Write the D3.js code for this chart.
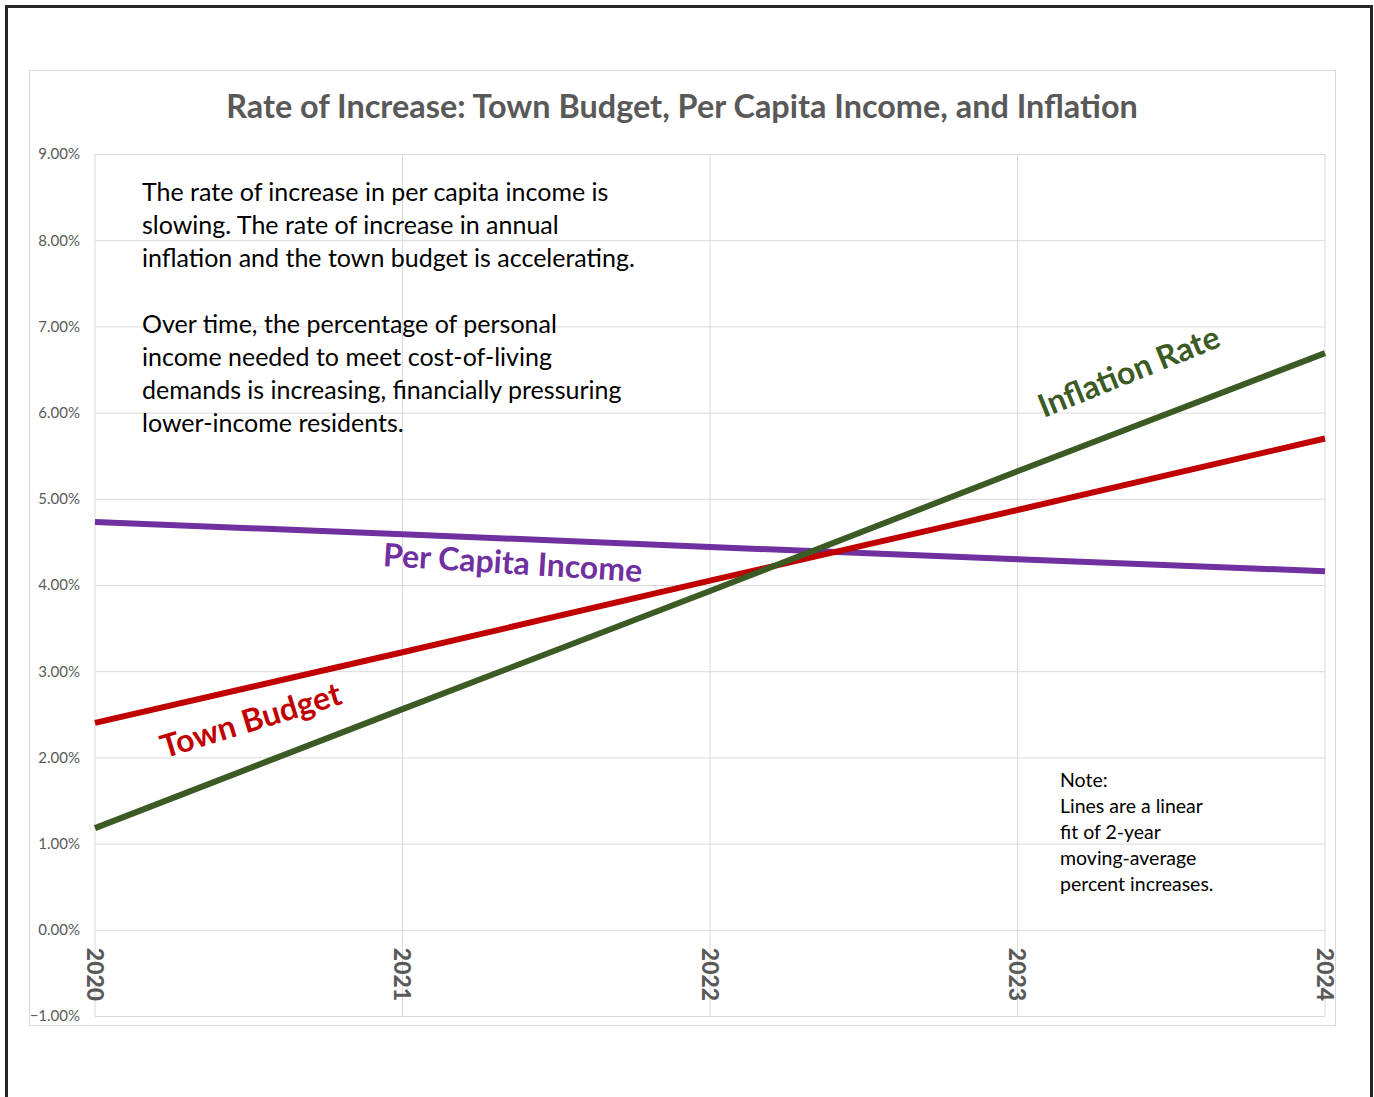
<!DOCTYPE html>
<html>
<head>
<meta charset="utf-8">
<script src="https://cdn.jsdelivr.net/npm/d3@7"></script>
<style>
  body { margin: 0; background: #fff; }
  svg { display: block; }
</style>
</head>
<body>
<main></main>
<script>
// data (percent per year, already linear fits)
const years = [2020, 2021, 2022, 2023, 2024]
const perCapitaIncome = [4.73, 4.59, 4.44, 4.30, 4.16]
const townBudget = [2.40, 3.22, 4.05, 4.87, 5.70]
const inflationRate = [1.18, 2.56, 3.93, 5.32, 6.69]
const yTicks = [-1, 0, 1, 2, 3, 4, 5, 6, 7, 8, 9]
const noteLines = ['Note:', 'Lines are a linear', 'fit of 2-year', 'moving-average', 'percent increases.']
const infoLines = [
  'The rate of increase in per capita income is',
  'slowing. The rate of increase in annual',
  'inflation and the town budget is accelerating.',
  '',
  'Over time, the percentage of personal',
  'income needed to meet cost-of-living',
  'demands is increasing, financially pressuring',
  'lower-income residents.'
]

const W = 1374
const H = 1097
const plot = { left: 95, right: 1325, top: 154, bottom: 1016 }
const font = 'Lato, "Open Sans", sans-serif'
const grey = '#595959'

const svg = d3.select('main')
  .append('svg')
  .attr('width', W)
  .attr('height', H)

// page frame
svg.append('rect')
  .attr('x', 6.5).attr('y', 6.5)
  .attr('width', 1365).attr('height', H + 20)
  .attr('fill', 'none')
  .attr('stroke', '#262626')
  .attr('stroke-width', 3)

// chart area border
svg.append('rect')
  .attr('x', 29.5).attr('y', 70.5)
  .attr('width', 1306).attr('height', 955)
  .attr('fill', '#fff')
  .attr('stroke', '#d9d9d9')

svg.append('text')
  .attr('x', 682).attr('y', 118)
  .attr('text-anchor', 'middle')
  .attr('fill', grey)
  .style('font-family', font)
  .style('font-weight', 'bold')
  .style('font-size', '32.4px')
  .text('Rate of Increase: Town Budget, Per Capita Income, and Inflation')

const x = d3.scaleLinear().domain([2020, 2024]).range([plot.left, plot.right])
const y = d3.scaleLinear().domain([-1, 9]).range([plot.bottom, plot.top])

// horizontal gridlines + y labels
const yAxis = svg.append('g')
  .attr('transform', `translate(${plot.left},0)`)
  .call(d3.axisLeft(y)
    .tickValues(yTicks)
    .tickFormat(d => d3.format('.2f')(d) + '%')
    .tickSizeInner(-(plot.right - plot.left))
    .tickSizeOuter(0)
    .tickPadding(15))
yAxis.select('.domain').remove()
yAxis.selectAll('line').attr('stroke', '#d9d9d9')
yAxis.selectAll('text')
  .attr('fill', grey)
  .style('font-family', font)
  .style('font-size', '15px')

// vertical gridlines
svg.append('g')
  .selectAll('line')
  .data(years)
  .enter()
  .append('line')
  .attr('x1', d => x(d)).attr('x2', d => x(d))
  .attr('y1', plot.top).attr('y2', plot.bottom)
  .attr('stroke', '#d9d9d9')

// x labels, rotated, hanging under the 0% line
svg.append('g')
  .selectAll('text')
  .data(years)
  .enter()
  .append('text')
  .attr('transform', d => `translate(${x(d)},${y(0) + 18}) rotate(90)`)
  .attr('dy', '0.36em')
  .attr('fill', grey)
  .style('font-family', font)
  .style('font-weight', '900')
  .style('font-size', '23px')
  .text(d => d)

const series = [
  { name: 'Per Capita Income', values: perCapitaIncome, color: '#7030a0' },
  { name: 'Town Budget', values: townBudget, color: '#c00000' },
  { name: 'Inflation Rate', values: inflationRate, color: '#3c5a24' }
]

const line = d3.line()
  .x((d, i) => x(years[i]))
  .y(d => y(d))

svg.append('g')
  .selectAll('path')
  .data(series)
  .enter()
  .append('path')
  .attr('fill', 'none')
  .attr('stroke', d => d.color)
  .attr('stroke-width', 6)
  .attr('d', d => line(d.values))

// line labels
const labelPos = [
  { cx: 512, cy: 574, angle: 3.5 },
  { cx: 254, cy: 731, angle: -17 },
  { cx: 1133, cy: 382, angle: -22 }
]
svg.append('g')
  .selectAll('text')
  .data(series)
  .enter()
  .append('text')
  .attr('transform', (d, i) => `translate(${labelPos[i].cx},${labelPos[i].cy}) rotate(${labelPos[i].angle})`)
  .attr('text-anchor', 'middle')
  .attr('fill', d => d.color)
  .style('font-family', font)
  .style('font-weight', 'bold')
  .style('font-size', '32px')
  .text(d => d.name)

// explanatory text
const info = svg.append('text')
  .attr('fill', '#000')
  .style('font-family', font)
  .style('font-size', '25px')
info.selectAll('tspan')
  .data(infoLines)
  .enter()
  .append('tspan')
  .attr('x', 142)
  .attr('y', (d, i) => 201 + i * 33)
  .text(d => d)

const note = svg.append('text')
  .attr('fill', '#000')
  .style('font-family', font)
  .style('font-size', '19.5px')
note.selectAll('tspan')
  .data(noteLines)
  .enter()
  .append('tspan')
  .attr('x', 1060)
  .attr('y', (d, i) => 787 + i * 26)
  .text(d => d)
</script>
</body>
</html>
